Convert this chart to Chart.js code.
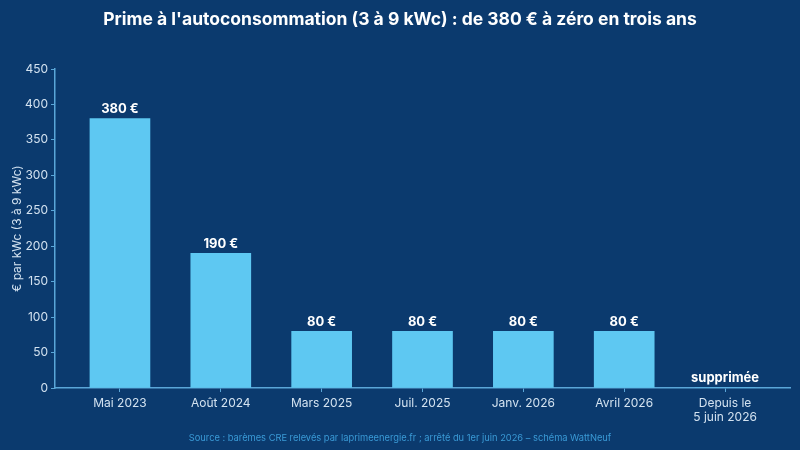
<!DOCTYPE html>
<html>
<head>
<meta charset="utf-8">
<script src="https://cdn.jsdelivr.net/npm/chart.js@4/dist/chart.umd.min.js"></script>
<style>
  html, body { margin:0; padding:0; background:#0b3a6e; }
  #wrap { width:800px; height:450px; }
</style>
</head>
<body>
<div id="wrap"><canvas id="c" width="800" height="450"></canvas></div>
<script>
// valeurs
const periods = [['Mai 2023'], ['Août 2024'], ['Mars 2025'], ['Juil. 2025'], ['Janv. 2026'], ['Avril 2026'], ['Depuis le', '5 juin 2026']];
const prime = [380, 190, 80, 80, 80, 80, 0];
const barLabels = ['380 €', '190 €', '80 €', '80 €', '80 €', '80 €', 'supprimée'];
const yTicks = [0, 50, 100, 150, 200, 250, 300, 350, 400, 450];

const titleText = "Prime à l'autoconsommation (3 à 9 kWc) : de 380 € à zéro en trois ans";
const sourceText = "Source : barèmes CRE relevés par laprimeenergie.fr ; arrêté du 1er juin 2026 – schéma WattNeuf";

const FONT = 'Inter, "DejaVu Sans", sans-serif';
const AXIS = '#5aa6d8';
const TXT = '#d3e2f0';

const decor = {
  id: 'decor',
  beforeDraw(chart) {
    const c = chart.ctx;
    c.save();
    c.fillStyle = '#0b3a6e';
    c.fillRect(0, 0, chart.width, chart.height);
    c.restore();
  },
  afterDraw(chart) {
    const c = chart.ctx, x = chart.scales.x, y = chart.scales.y;
    c.save();
    c.textAlign = 'center';
    c.fillStyle = '#ffffff';
    c.font = 'bold 17.5px ' + FONT;
    c.textBaseline = 'middle';
    c.fillText(titleText, 400, 20);
    c.font = '9.3px ' + FONT;
    c.fillStyle = '#3a9ad6';
    c.fillText(sourceText, 400, 438);
    // étiquettes des barres
    c.font = 'bold 13px ' + FONT;
    c.fillStyle = '#ffffff';
    c.textBaseline = 'bottom';
    prime.forEach((v, i) => {
      c.fillText(barLabels[i], x.getPixelForValue(i), y.getPixelForValue(v) - 3);
    });
    c.restore();
  }
};

new Chart(document.getElementById('c'), {
  type: 'bar',
  data: {
    datasets: [{
      data: prime.map((v, i) => ({x: i, y: v})),
      backgroundColor: '#5ec8f2',
      borderWidth: 0,
      barThickness: 60
    }]
  },
  options: {
    responsive: false,
    animation: false,
    layout: { padding: { top: 69, right: 10, left: 10, bottom: 22 } },
    plugins: { legend: { display: false }, tooltip: { enabled: false } },
    scales: {
      x: {
        type: 'linear',
        offset: false,
        min: -0.644, max: 6.644,
        afterBuildTicks: s => { s.ticks = periods.map((p, i) => ({value: i})); },
        afterFit: s => { s.height = 40; },
        ticks: {
          autoSkip: false, maxRotation: 0, padding: 4,
          color: TXT, font: { family: FONT, size: 12 },
          callback: v => periods[v]
        },
        grid: { offset: false, drawOnChartArea: false, color: AXIS, tickLength: 4 },
        border: { color: AXIS, width: 1.5 }
      },
      y: {
        min: 0, max: 450,
        afterBuildTicks: s => { s.ticks = yTicks.map(v => ({value: v})); },
        afterFit: s => { s.width = 45; },
        ticks: { color: TXT, padding: 3, font: { family: FONT, size: 12 } },
        grid: { drawOnChartArea: false, color: AXIS, tickLength: 4 },
        border: { color: AXIS, width: 1.5 },
        title: { display: true, text: '€ par kWc (3 à 9 kWc)', color: TXT, font: { family: FONT, size: 12 }, padding: 0 }
      }
    }
  },
  plugins: [decor]
});
</script>
</body>
</html>
